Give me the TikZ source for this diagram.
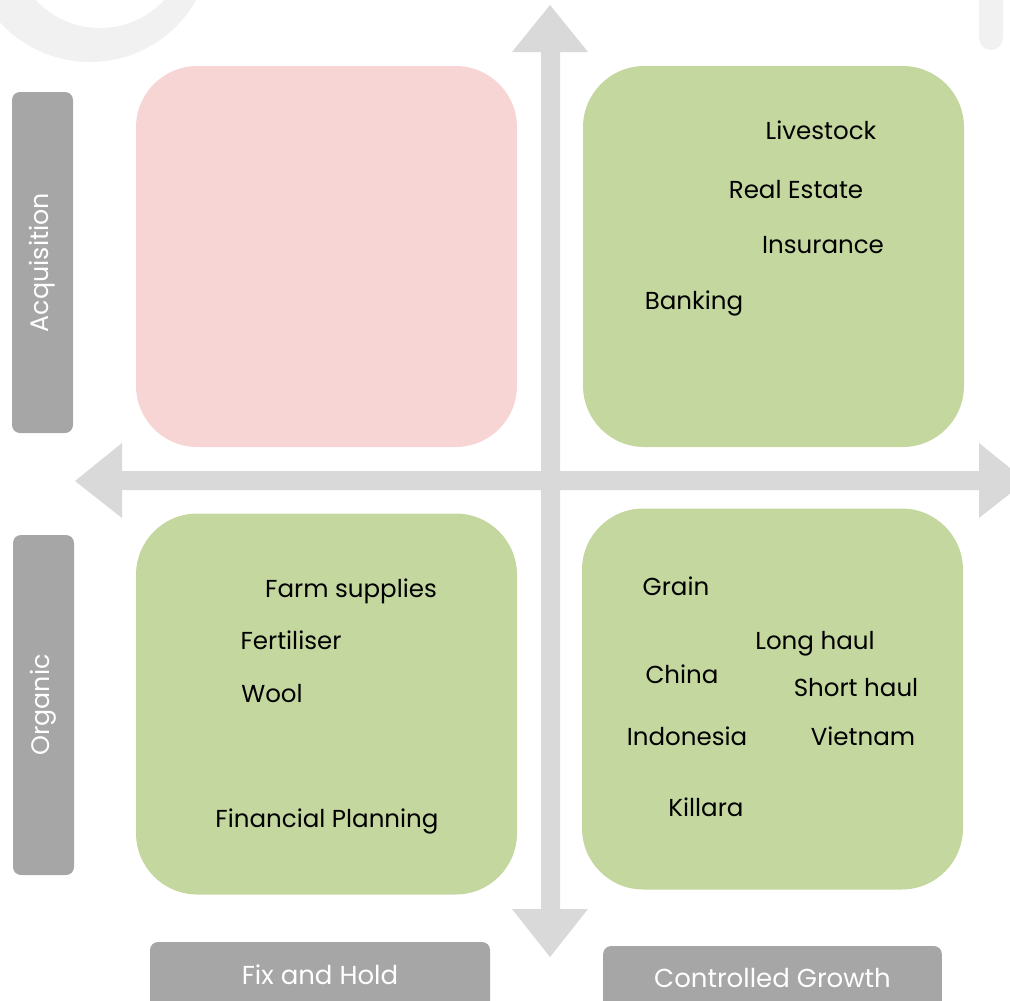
\documentclass[tikz,border=0pt]{standalone}
\usepackage{fontspec}
\setmainfont{Poppins}
\definecolor{pinkq}{HTML}{F8D5D5}
\definecolor{greenq}{HTML}{C4D79E}
\definecolor{graylab}{HTML}{A6A6A6}
\definecolor{grayarr}{HTML}{D9D9D9}
\definecolor{wmark}{HTML}{F1F1F1}
\begin{document}
\begin{tikzpicture}[x=0.75pt,y=-0.75pt,
  quad/.style={rounded corners=46pt, inner sep=0pt, minimum width=285.75pt, minimum height=285.75pt},
  lab/.style={fill=graylab, rounded corners=6pt, inner sep=0pt, text=white, font=\fontsize{19}{22}\selectfont},
  item/.style={anchor=base, inner sep=0pt, text=black, font=\fontsize{18.4}{22}\selectfont}]
\useasboundingbox (0,0) rectangle (1010,1000);
% faint watermark
\fill[wmark, even odd rule] (90,-60) circle (122) (100,-60) circle (88);
\fill[wmark, rounded corners=9pt] (979,-20) rectangle (1003,50);
% quadrants
\node[quad, fill=pinkq] (tl) at (326.5,256.5) {};
\node[quad, fill=greenq] (tr) at (773.5,256.5) {};
\node[quad, fill=greenq] (bl) at (326.5,704) {};
\node[quad, fill=greenq] (br) at (772.5,699) {};
% axes arrows
\fill[grayarr] (550,5) -- (588,52) -- (560,52) -- (560,909) -- (588,909) -- (550,957)
  -- (512,909) -- (541,909) -- (541,52) -- (512,52) -- cycle;
\fill[grayarr] (75,481) -- (122,443) -- (122,471) -- (979,471) -- (979,443) -- (1026,481)
  -- (979,518) -- (979,490) -- (122,490) -- (122,518) -- cycle;
% side labels
\node[lab, minimum width=45.75pt, minimum height=255.75pt] (acq) at (42.5,262.5) {};
\node[text=white, rotate=90, font=\fontsize{19}{22}\selectfont] (acqt) at (acq.center) {Acquisition};
\node[lab, minimum width=45.75pt, minimum height=255pt] (org) at (43.5,705) {};
\node[text=white, rotate=90, font=\fontsize{19}{22}\selectfont] (orgt) at (org.center) {Organic};
\node[lab, minimum width=255pt, minimum height=60pt] (fix) at (320,982) {};
\node[text=white, font=\fontsize{19.5}{22}\selectfont] (fixt) at (320,975) {Fix and Hold};
\node[lab, minimum width=254pt, minimum height=60pt] (cg) at (772.5,986) {};
\node[text=white, font=\fontsize{19.5}{22}\selectfont] (cgt) at (772.5,978) {Controlled Growth};
% TR items
\node[item] (i1) at (821,139) {Livestock};
\node[item] (i2) at (796,198) {Real Estate};
\node[item] (i3) at (823,253) {Insurance};
\node[item] (i4) at (694,309) {Banking};
% BL items
\node[item] (i5) at (351,597) {Farm supplies};
\node[item] (i6) at (291,649) {Fertiliser};
\node[item] (i7) at (272,702) {Wool};
\node[item] (i8) at (327,827) {Financial Planning};
% BR items
\node[item] (i9) at (676,595) {Grain};
\node[item] (i10) at (815,649) {Long haul};
\node[item] (i11) at (682,683) {China};
\node[item] (i12) at (856,696) {Short haul};
\node[item] (i13) at (687,745) {Indonesia};
\node[item] (i14) at (863,745) {Vietnam};
\node[item] (i15) at (706,816) {Killara};
\end{tikzpicture}
\end{document}
